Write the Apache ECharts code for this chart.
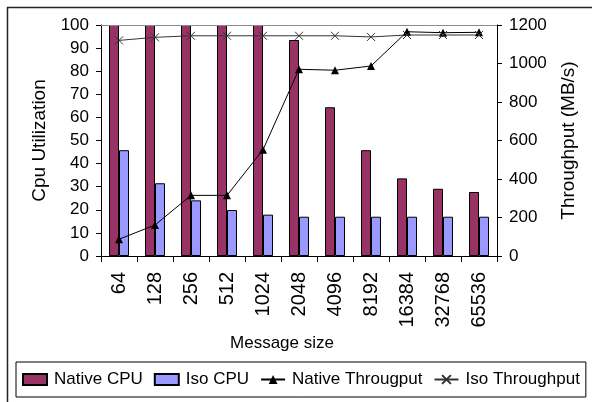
<!DOCTYPE html>
<html>
<head>
<meta charset="utf-8">
<script src="https://cdn.jsdelivr.net/npm/echarts@6/dist/echarts.min.js"></script>
<style>
  html, body { margin: 0; padding: 0; background: #fff; }
  #chart { width: 592px; height: 402px; }
</style>
</head>
<body>
<div id="chart"></div>
<script>
// Message sizes on the category axis
var messageSizes = ['64', '128', '256', '512', '1024', '2048', '4096', '8192', '16384', '32768', '65536'];
// CPU utilisation (%)
var nativeCpu = [100, 100, 100, 100, 100, 93.5, 64.4, 45.8, 33.6, 29.1, 27.7];
var isoCpu = [45.8, 31.5, 24.1, 19.9, 17.9, 17, 17, 17, 17, 17, 17];
// Throughput (MB/s)
var nativeThroughput = [87, 161, 315, 315, 552, 970, 965, 987, 1165, 1160, 1162];
var isoThroughput = [1120, 1136, 1144, 1144, 1144, 1144, 1144, 1138, 1148, 1148, 1148];

var FONT = '"Liberation Sans", Arial, sans-serif';
var txt = { fontFamily: FONT, fontSize: 17, color: '#000' };
var nameTxt = { fontFamily: FONT, fontSize: 19, color: '#000' };

var chart = echarts.init(document.getElementById('chart'), null, { renderer: 'canvas' });

var crossPath = 'path://M0,0L10,10M10,0L0,10';

chart.setOption({
  animation: false,
  backgroundColor: '#fff',
  textStyle: { fontFamily: FONT },
  grid: { left: 101, right: 95, top: 25, bottom: 146, containLabel: false },
  title: {
    text: 'Message size',
    left: 282,
    top: 335,
    textAlign: 'center',
    padding: 0,
    textStyle: { fontFamily: FONT, fontSize: 17, fontWeight: 'normal', color: '#000' }
  },
  legend: {
    left: 16,
    top: 362,
    width: 567,
    height: 30,
    padding: [9, 6, 9, 6],
    borderColor: '#000',
    borderWidth: 1,
    itemWidth: 24,
    itemHeight: 11,
    itemGap: 11,
    textStyle: { fontFamily: FONT, fontSize: 17, color: '#000', padding: [0, 0, 0, 2] },
    data: [
      { name: 'Native CPU', icon: 'rect' },
      { name: 'Iso CPU', icon: 'rect' },
      { name: 'Native Througput' },
      { name: 'Iso Throughput' }
    ]
  },
  xAxis: {
    type: 'category',
    data: messageSizes,
    boundaryGap: true,
    axisLine: { lineStyle: { color: '#000', width: 1 } },
    axisTick: { show: true, length: 6, lineStyle: { color: '#000' } },
    axisLabel: { rotate: 90, margin: 16, interval: 0, fontFamily: FONT, fontSize: 20, color: '#000' },
    splitLine: { show: false }
  },
  yAxis: [
    {
      type: 'value',
      min: 0, max: 100, interval: 10,
      position: 'left',
      name: 'Cpu Utilization',
      nameLocation: 'middle',
      nameGap: 52,
      nameTextStyle: nameTxt,
      axisLine: { show: true, lineStyle: { color: '#000' } },
      axisTick: { show: true, length: 5, lineStyle: { color: '#000' } },
      axisLabel: Object.assign({ margin: 12 }, txt),
      splitLine: { show: false }
    },
    {
      type: 'value',
      min: 0, max: 1200, interval: 200,
      position: 'right',
      name: 'Throughput (MB/s)',
      nameLocation: 'middle',
      nameGap: 62,
      nameRotate: 90,
      nameTextStyle: nameTxt,
      axisLine: { show: true, lineStyle: { color: '#000' } },
      axisTick: { show: true, length: 5, lineStyle: { color: '#000' } },
      axisLabel: Object.assign({ margin: 12, formatter: function (v) { return String(v); } }, txt),
      splitLine: { show: false }
    }
  ],
  series: [
    {
      name: 'Native CPU',
      type: 'bar',
      yAxisIndex: 0,
      data: nativeCpu,
      barWidth: 10,
      barGap: '0%',
      itemStyle: { color: '#993366', borderColor: '#000', borderWidth: 1 },
      markLine: {
        silent: true,
        symbol: 'none',
        label: { show: false },
        lineStyle: { color: '#8c8c8c', type: 'solid', width: 1 },
        data: [{ yAxis: 100 }]
      }
    },
    {
      name: 'Iso CPU',
      type: 'bar',
      yAxisIndex: 0,
      data: isoCpu,
      barWidth: 10,
      itemStyle: { color: '#9999ff', borderColor: '#000', borderWidth: 1 }
    },
    {
      name: 'Native Througput',
      type: 'line',
      yAxisIndex: 1,
      data: nativeThroughput,
      symbol: 'triangle',
      symbolSize: 8,
      lineStyle: { color: '#000', width: 1 },
      itemStyle: { color: '#000' }
    },
    {
      name: 'Iso Throughput',
      type: 'line',
      yAxisIndex: 1,
      data: isoThroughput,
      symbol: crossPath,
      symbolSize: 8,
      lineStyle: { color: '#333', width: 1 },
      itemStyle: { color: '#333', borderColor: '#333', borderWidth: 1 }
    }
  ],
  graphic: [
    { type: 'line', shape: { x1: 7, y1: 7.5, x2: 592, y2: 7.5 }, style: { stroke: '#222', lineWidth: 1.5 }, silent: true },
    { type: 'line', shape: { x1: 7.5, y1: 7, x2: 7.5, y2: 402 }, style: { stroke: '#222', lineWidth: 1.5 }, silent: true }
  ]
});
</script>
</body>
</html>
